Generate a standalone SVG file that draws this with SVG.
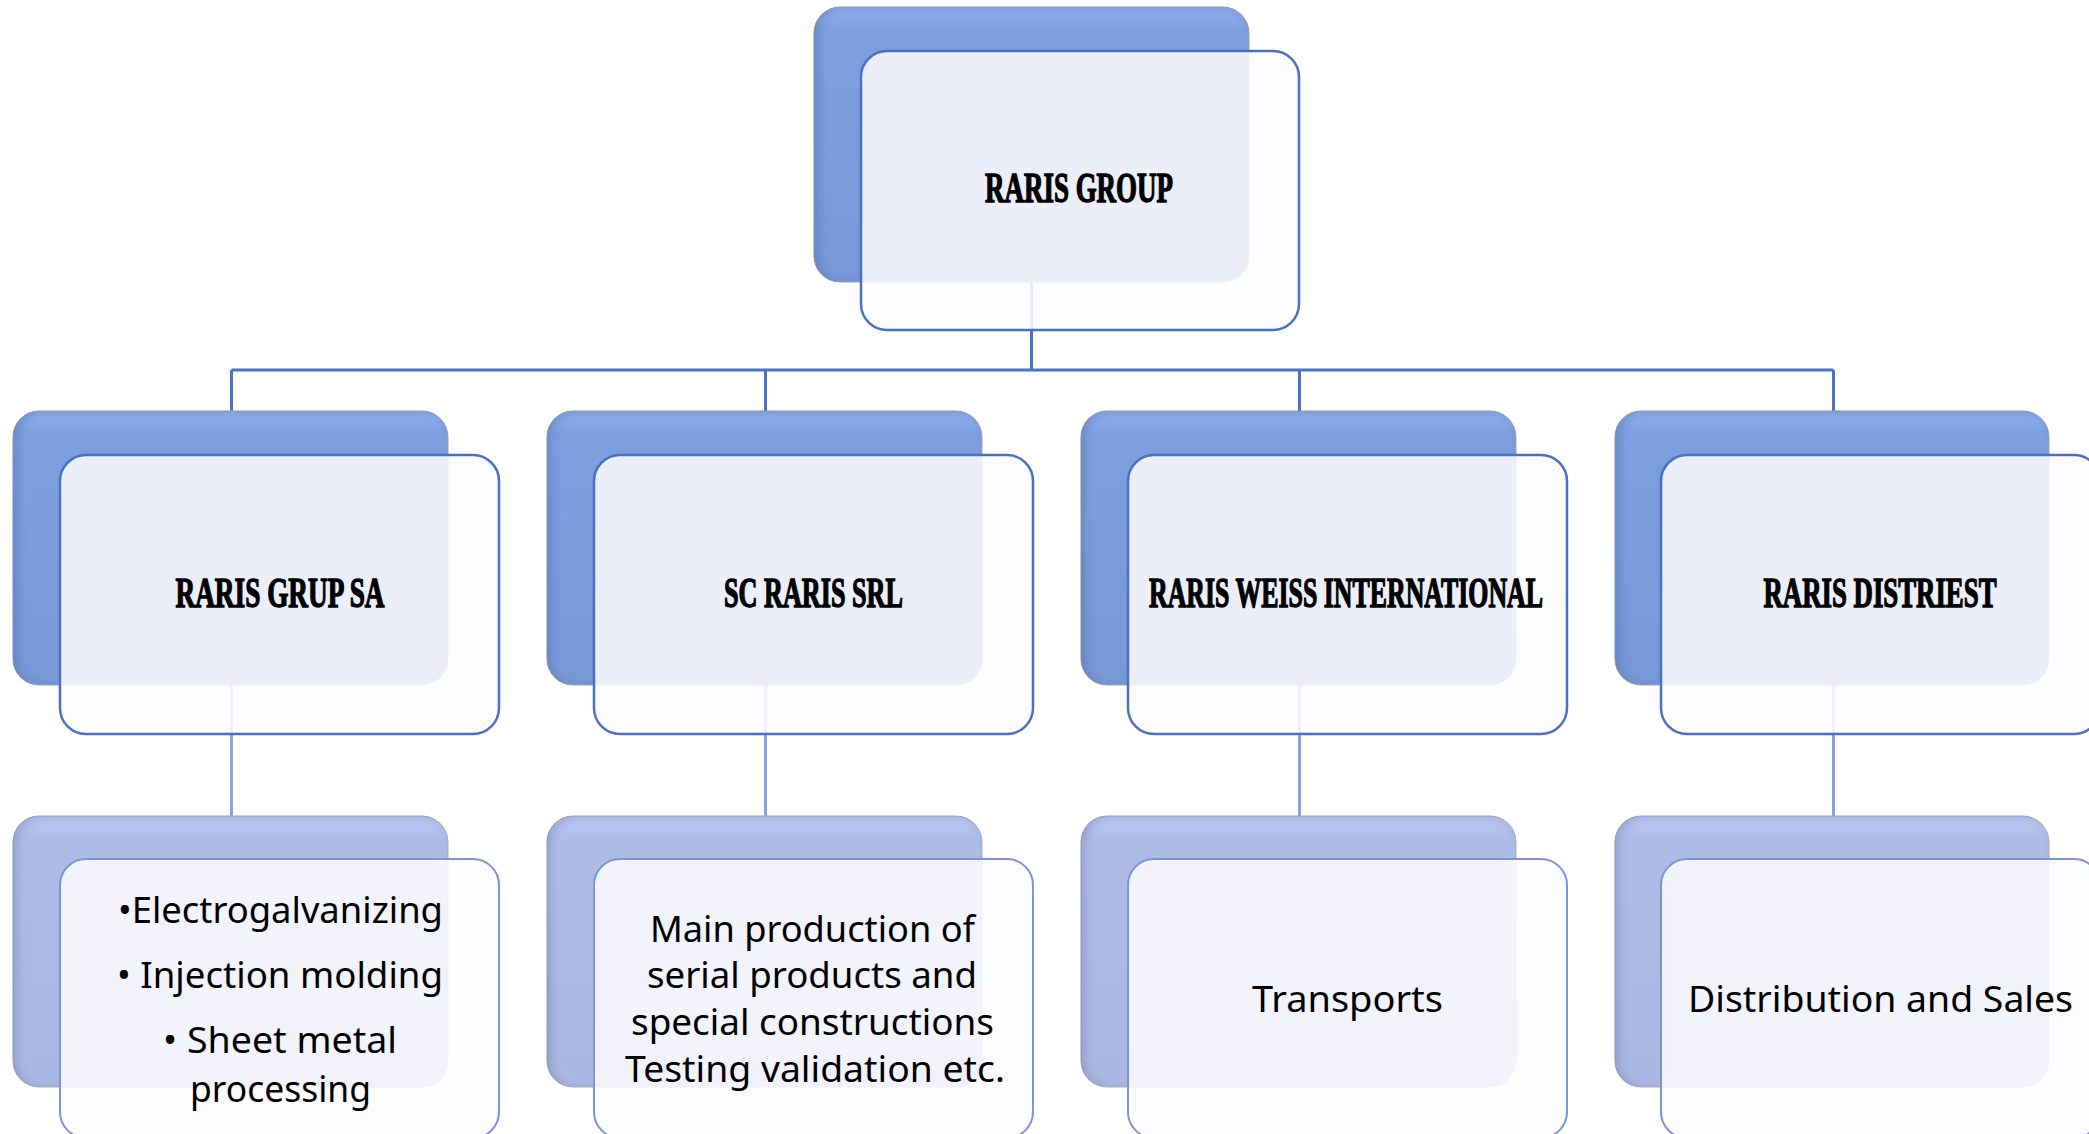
<svg xmlns="http://www.w3.org/2000/svg" width="2089" height="1134" viewBox="0 0 2089 1134">
<style>
.c1{fill:none;stroke:#4a72c6;stroke-width:3}
.c2{fill:none;stroke:#8ba2e2;stroke-width:3}
.b1{fill:url(#g1);stroke:#9aa6bf;stroke-width:1;filter:url(#bev)}
.b2{fill:url(#g2);stroke:#aab2c6;stroke-width:1;filter:url(#bev)}
.f1{fill:#fcfbfe;fill-opacity:0.88;stroke:#4a70c4;stroke-width:2.5}
.f2{fill:#fcfbfe;fill-opacity:0.88;stroke:#7c93d6;stroke-width:2}
.t{font-family:"Liberation Serif",serif;font-weight:bold;font-size:42px;fill:#000;stroke:#000;stroke-width:1.4;text-anchor:middle}
.s{font-family:"Noto Sans","Liberation Sans",sans-serif;font-size:37px;fill:#000;text-anchor:middle}
</style>
<defs>
<linearGradient id="g1" x1="0" y1="0" x2="0" y2="1">
<stop offset="0" stop-color="#8fb0f2"/><stop offset="0.08" stop-color="#7e9fdf"/><stop offset="1" stop-color="#7898d8"/>
</linearGradient>
<linearGradient id="g2" x1="0" y1="0" x2="0" y2="1">
<stop offset="0" stop-color="#bccbf8"/><stop offset="0.08" stop-color="#aebce8"/><stop offset="1" stop-color="#a9b7e3"/>
</linearGradient>
<filter id="bev" x="-5%" y="-5%" width="110%" height="110%">
<feGaussianBlur in="SourceAlpha" stdDeviation="5" result="b"/>
<feOffset in="b" dx="4" dy="2" result="bo"/>
<feComposite in="SourceAlpha" in2="bo" operator="arithmetic" k2="1" k3="-1" result="edge"/>
<feFlood flood-color="#1a2f66" flood-opacity="0.35"/>
<feComposite in2="edge" operator="in" result="sh"/>
<feMerge><feMergeNode in="SourceGraphic"/><feMergeNode in="sh"/></feMerge>
</filter>
</defs>
<g id="connectors">
<path class="c1" d="M1031.5,140 V370 M231.5,370 H1833.5 M231.5,370 V500 M765.5,370 V500 M1299.5,370 V500 M1833.5,370 V500"/>
<path class="c2" d="M231.5,600 V900 M765.5,600 V900 M1299.5,600 V900 M1833.5,600 V900"/>
</g>
<g id="raris-group">
<rect class="b1" x="814" y="7" width="435" height="275" rx="26"/>
<rect class="f1" x="861" y="51" width="438" height="279" rx="26"/>
<text class="t" x="1079" y="202" textLength="188" lengthAdjust="spacingAndGlyphs">RARIS GROUP</text>
</g>
<g id="raris-grup-sa">
<rect class="b1" x="13" y="411" width="435" height="274" rx="26"/>
<rect class="f1" x="60" y="455" width="439" height="279" rx="26"/>
<text class="t" x="280" y="607" textLength="209" lengthAdjust="spacingAndGlyphs">RARIS GRUP SA</text>
</g>
<g id="sc-raris-srl">
<rect class="b1" x="547" y="411" width="435" height="274" rx="26"/>
<rect class="f1" x="594" y="455" width="439" height="279" rx="26"/>
<text class="t" x="813.5" y="607" textLength="179" lengthAdjust="spacingAndGlyphs">SC RARIS SRL</text>
</g>
<g id="raris-weiss">
<rect class="b1" x="1081" y="411" width="435" height="274" rx="26"/>
<rect class="f1" x="1128" y="455" width="439" height="279" rx="26"/>
<text class="t" x="1346" y="607" textLength="394" lengthAdjust="spacingAndGlyphs">RARIS WEISS INTERNATIONAL</text>
</g>
<g id="raris-distriest">
<rect class="b1" x="1615" y="411" width="434" height="274" rx="26"/>
<rect class="f1" x="1661" y="455" width="439" height="279" rx="26"/>
<text class="t" x="1880" y="607" textLength="233" lengthAdjust="spacingAndGlyphs">RARIS DISTRIEST</text>
</g>
<g id="grup-sa-activities">
<rect class="b2" x="13" y="816" width="435" height="271" rx="26"/>
<rect class="f2" x="60" y="859" width="439" height="279" rx="26"/>
<text class="s" x="280.5" y="923" textLength="325" lengthAdjust="spacingAndGlyphs">•Electrogalvanizing</text>
<text class="s" x="280" y="988" textLength="326" lengthAdjust="spacingAndGlyphs">• Injection molding</text>
<text class="s" x="280" y="1053" textLength="234" lengthAdjust="spacingAndGlyphs">• Sheet metal</text>
<text class="s" x="280.5" y="1102" textLength="181" lengthAdjust="spacingAndGlyphs">processing</text>
</g>
<g id="srl-activities">
<rect class="b2" x="547" y="816" width="435" height="271" rx="26"/>
<rect class="f2" x="594" y="859" width="439" height="279" rx="26"/>
<text class="s" x="812.5" y="942" textLength="325" lengthAdjust="spacingAndGlyphs">Main production of</text>
<text class="s" x="812" y="988" textLength="330" lengthAdjust="spacingAndGlyphs">serial products and</text>
<text class="s" x="812.5" y="1035" textLength="363" lengthAdjust="spacingAndGlyphs">special constructions</text>
<text class="s" x="815" y="1082" textLength="380" lengthAdjust="spacingAndGlyphs">Testing validation etc.</text>
</g>
<g id="weiss-activities">
<rect class="b2" x="1081" y="816" width="435" height="271" rx="26"/>
<rect class="f2" x="1128" y="859" width="439" height="279" rx="26"/>
<text class="s" x="1347.5" y="1012" textLength="191" lengthAdjust="spacingAndGlyphs">Transports</text>
</g>
<g id="distriest-activities">
<rect class="b2" x="1615" y="816" width="434" height="271" rx="26"/>
<rect class="f2" x="1661" y="859" width="439" height="279" rx="26"/>
<text class="s" x="1880.5" y="1012" textLength="385" lengthAdjust="spacingAndGlyphs">Distribution and Sales</text>
</g>
</svg>
